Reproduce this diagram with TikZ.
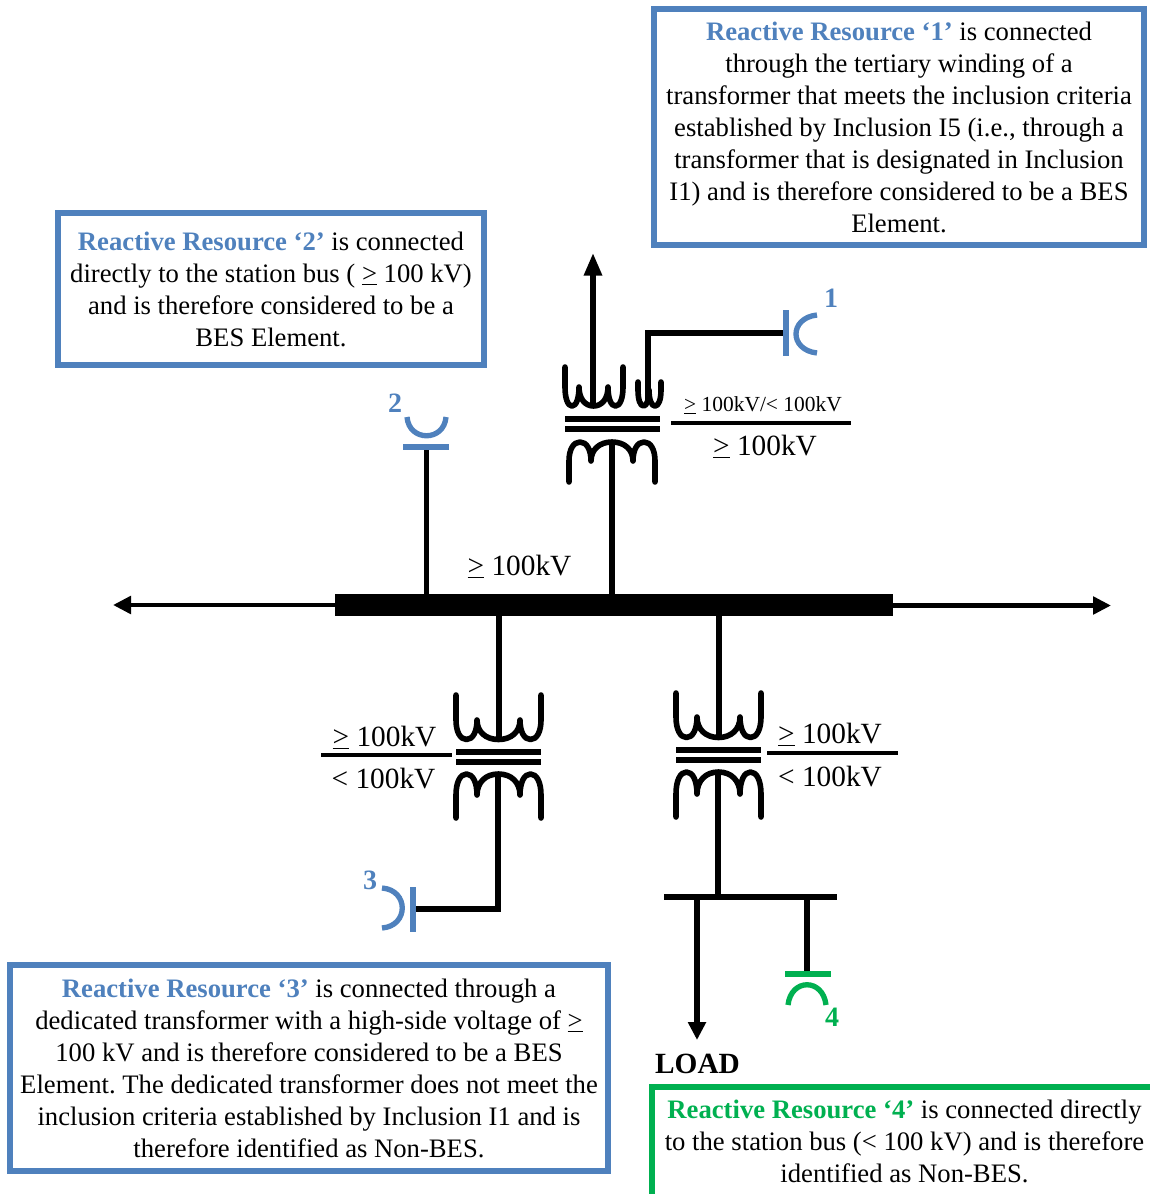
\documentclass[tikz,border=0pt]{standalone}
\usepackage{fontspec}
\setmainfont{Liberation Serif}
\usetikzlibrary{arrows.meta}
\definecolor{resblue}{HTML}{4F81BD}
\definecolor{resgreen}{HTML}{00B050}
\frenchspacing
\newcommand{\ugt}{\underline{\hbox{>}}}
\newcommand{\bluehead}[1]{\textcolor{resblue}{\textbf{#1}}}
\newcommand{\greenhead}[1]{\textcolor{resgreen}{\textbf{#1}}}
% one rounded lobe from (a,yc) to (b,yc) reaching yb
\newcommand{\lobe}[4]{.. controls ({#1},{#3+0.6*(#4-#3)}) and ({(#1+#2)/2-0.3*(#2-#1)},{#4}) .. ({(#1+#2)/2},{#4}) .. controls ({(#1+#2)/2+0.3*(#2-#1)},{#4}) and ({#2},{#3+0.6*(#4-#3)}) .. ({#2},{#3})}
% x0 x1 x2 x3 yend ycusp ypeak : winding of three lobes with outer stems
\newcommand{\coilpath}[7]{\draw[coil] (#1,#5) -- (#1,#6) \lobe{#1}{#2}{#6}{#7} \lobe{#2}{#3}{#6}{#7} \lobe{#3}{#4}{#6}{#7} -- (#4,#5);}
\tikzset{
  x=0.75pt,y=-0.75pt,
  coil/.style={line width=4.2pt,line cap=round,line join=round},
  wire/.style={line width=3.9pt,line join=miter},
  corebar/.style={line width=3.9pt},
  fracbar/.style={line width=3.2pt},
  infobox/.style={draw,line width=4.4pt,inner sep=0pt,align=center,font=\fontsize{20}{24}\selectfont,text=black},
  volt/.style={font=\fontsize{22}{26}\selectfont,inner sep=0pt},
  smallvolt/.style={font=\fontsize{16.1}{20}\selectfont,inner sep=0pt},
  capblue/.style={draw=resblue,line width=4pt},
  capgreen/.style={draw=resgreen,line width=4pt},
  numblue/.style={text=resblue,font=\fontsize{21}{24}\selectfont\bfseries,inner sep=0pt},
  numgreen/.style={text=resgreen,font=\fontsize{21}{24}\selectfont\bfseries,inner sep=0pt},
  arrowline/.style={line width=3.3pt,-{Triangle[length=13.5pt,width=13pt]}},
  busbar/.style={fill=black,inner sep=0pt,minimum width=418.5pt,minimum height=16.5pt},
}
\begin{document}
\begin{tikzpicture}
\useasboundingbox (0,0) rectangle (1150,1194);
% text boxes
\node[infobox,draw=resblue,minimum width=368pt,minimum height=176.5pt] (box1) at (899,127) {\bluehead{Reactive Resource ‘1’} is connected\\through the tertiary winding of a\\transformer that meets the inclusion criteria\\established by Inclusion I5 (i.e., through a\\transformer that is designated in Inclusion\\I1) and is therefore considered to be a BES\\Element.};
\node[infobox,draw=resblue,minimum width=320pt,minimum height=113.5pt] (box2) at (271,289) {\bluehead{Reactive Resource ‘2’} is connected\\directly to the station bus ( \ugt\ 100 kV)\\and is therefore considered to be a\\BES Element.};
\node[infobox,draw=resblue,minimum width=449pt,minimum height=154.5pt] (box3) at (309,1068) {\bluehead{Reactive Resource ‘3’} is connected through a\\dedicated transformer with a high-side voltage of \ugt\\100 kV and is therefore considered to be a BES\\Element. The dedicated transformer does not meet the\\inclusion criteria established by Inclusion I1 and is\\therefore identified as Non-BES.};
\node[infobox,draw=none,minimum width=370pt,minimum height=70pt] (box4) at (904.5,1141) {\greenhead{Reactive Resource ‘4’} is connected directly\\to the station bus (< 100 kV) and is therefore\\identified as Non-BES.};
\coordinate (g1) at (652,1194);
\coordinate (g2) at (652,1087);
\coordinate (g3) at (1150,1087);
\draw[resgreen,line width=4.4pt] (g1) -- (g2) -- (g3);
% main bus
\node[busbar] (bus) at (614,605) {};
\coordinate (westend) at (113,605);
\coordinate (eastend) at (1111,605.5);
\draw[arrowline] (bus.west) -- (westend);
\draw[arrowline] (bus.east |- eastend) -- (eastend);
% top transformer
\coilpath{565}{579}{608}{623}{367}{387}{406}
\draw[coil] (638,382) -- (638,390) \lobe{638}{649}{390}{406} \lobe{649}{661}{390}{406} -- (661,382);
\draw[corebar] (565,419) -- (660,419);
\draw[corebar] (565,429) -- (660,429);
\coilpath{569}{591}{633}{655}{482}{461}{442}
\coordinate (t1low) at (612,442);
\coordinate (t1up) at (593,404);
\coordinate (arrowtop) at (593,253);
\draw[wire] (t1low) -- (t1low |- bus.north);
\draw[line width=3.9pt,-{Triangle[length=17pt,width=13pt]}] (t1up) -- (arrowtop);
% left transformer
\coilpath{456}{477}{520}{541}{695}{720}{739.5}
\draw[corebar] (456,752) -- (541,752);
\draw[corebar] (456,762) -- (541,762);
\coilpath{456}{477}{520}{541}{818}{795}{774}
\coordinate (t2up) at (499,739);
\coordinate (t2low) at (498,775);
\draw[wire] (t2up |- bus.south) -- (t2up);
% right transformer
\coilpath{676}{697}{740}{761}{693}{717}{737.5}
\draw[corebar] (676,750) -- (761,750);
\draw[corebar] (676,760) -- (761,760);
\coilpath{676}{697}{740}{761}{817}{794}{772}
\coordinate (t3up) at (719,737);
\coordinate (t3low) at (718,773);
\draw[wire] (t3up |- bus.south) -- (t3up);
% load bus
\coordinate (lbw) at (664,897);
\coordinate (lbe) at (837,897);
\draw[wire] (lbw) -- (lbe);
\draw[wire] (t3low) -- (t3low |- lbw);
\coordinate (loadbranch) at (697,897);
\coordinate (loadend) at (697,1040);
\draw[line width=3.9pt,-{Triangle[length=13.5pt,width=13pt]}] (loadbranch) -- (loadend);
\node[inner sep=0pt,font=\fontsize{22}{26}\selectfont\bfseries] (load) at (697.5,1064) {LOAD};
% capacitor 1
\coordinate (c1p) at (786,333);
\coordinate (t1ter) at (648,404);
\draw[wire] (c1p) -| (t1ter);
\draw[capblue] (786,310) -- (786,356);
\draw[capblue] (817,315) .. controls (789,318) and (789,350) .. (817,353);
\node[numblue] (n1) at (831,298) {1};
% capacitor 2
\coordinate (c2p) at (426.5,447);
\draw[wire] (c2p) -- (c2p |- bus.north);
\draw[capblue] (403,447) -- (449,447);
\draw[capblue] (407,417) .. controls (409,442) and (444,442) .. (446,417);
\node[numblue] (n2) at (395,403) {2};
% capacitor 3
\coordinate (c3p) at (413,909);
\draw[wire] (c3p) -| (t2low);
\draw[capblue] (413,887) -- (413,932);
\draw[capblue] (382,888) .. controls (409,890) and (409,926) .. (382,928);
\node[numblue] (n3) at (370,880) {3};
% capacitor 4
\coordinate (c4p) at (807,974);
\draw[wire] (c4p) -- (c4p |- lbw);
\draw[capgreen] (785,974) -- (831,974);
\draw[capgreen] (788,1005) .. controls (791,978) and (823,978) .. (826,1005);
\node[numgreen] (n4) at (832,1017) {4};
% voltage labels
\node[volt] (vbus) at (519.5,567) {\ugt\ 100kV};
\node[smallvolt] (vt1a) at (763,405) {\ugt\ 100kV/< 100kV};
\coordinate (f1a) at (671,423);
\coordinate (f1b) at (851,423);
\draw[fracbar] (f1a) -- (f1b);
\node[volt] (vt1b) at (765,447) {\ugt\ 100kV};
\node[volt] (vt2a) at (384.5,738) {\ugt\ 100kV};
\coordinate (f2a) at (321,755);
\coordinate (f2b) at (452,755);
\draw[fracbar] (f2a) -- (f2b);
\node[volt] (vt2b) at (383.5,779) {< 100kV};
\node[volt] (vt3a) at (830,735) {\ugt\ 100kV};
\coordinate (f3a) at (767,753);
\coordinate (f3b) at (898,753);
\draw[fracbar] (f3a) -- (f3b);
\node[volt] (vt3b) at (830,777) {< 100kV};
\end{tikzpicture}
\end{document}
